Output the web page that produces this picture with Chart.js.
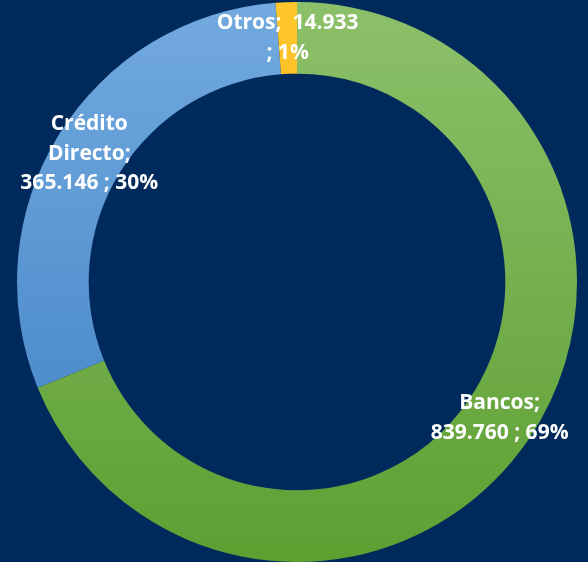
<!DOCTYPE html>
<html>
<head>
<meta charset="utf-8">
<script src="https://cdn.jsdelivr.net/npm/chart.js@4"></script>
<style>
  html, body { margin: 0; padding: 0; background: #002A5C; }
  #wrap { width: 588px; height: 562px; position: relative; }
</style>
</head>
<body>
<div id="wrap"><canvas id="myChart"></canvas></div>
<script>
// chart data
const categories = ['Bancos', 'Crédito Directo', 'Otros'];
const amounts = [839760, 365146, 14933];
const amountLabels = ['839.760', '365.146', ' 14.933'];
const percentLabels = ['69%', '30%', '1%'];

// top / bottom colours of each slice gradient
const topColors = ['#8CC06A', '#72AADF', '#FFC72C'];
const bottomColors = ['#5E9F32', '#3F7FC4', '#D9A000'];

function sliceFill(context) {
    const chart = context.chart;
    const area = chart.chartArea;
    if (!area) return topColors[context.dataIndex];
    const g = chart.ctx.createLinearGradient(0, area.top, 0, area.bottom);
    g.addColorStop(0, topColors[context.dataIndex]);
    g.addColorStop(1, bottomColors[context.dataIndex]);
    return g;
}

function wrapText(ctx, text, maxWidth) {
    const words = text.split(' ');
    const lines = [];
    let line = '';
    words.forEach(function(w) {
        const test = line === '' ? w : line + ' ' + w;
        if (line !== '' && ctx.measureText(test).width > maxWidth) {
            lines.push(line);
            line = w;
        } else {
            line = test;
        }
    });
    if (line !== '') lines.push(line);
    return lines;
}

// data labels drawn at the centre of each slice
const sliceLabels = {
    id: 'sliceLabels',
    afterDatasetsDraw(chart) {
        const ctx = chart.ctx;
        const meta = chart.getDatasetMeta(0);
        ctx.save();
        ctx.font = 'bold 21px "Open Sans"';
        ctx.fillStyle = '#ffffff';
        ctx.textAlign = 'center';
        ctx.textBaseline = 'middle';
        meta.data.forEach(function(arc, i) {
            const pos = arc.tooltipPosition();
            const text = categories[i] + '; ' + amountLabels[i] + ' ; ' + percentLabels[i];
            const lines = wrapText(ctx, text, 146);
            const lh = 29.5;
            const y0 = pos.y - (lines.length - 1) * lh / 2;
            lines.forEach(function(l, j) {
                ctx.fillText(l, pos.x, y0 + j * lh);
            });
        });
        ctx.restore();
    }
};

const ctx = document.getElementById('myChart').getContext('2d');
const myChart = new Chart(ctx, {
    type: 'doughnut',
    data: {
        labels: categories,
        datasets: [{
            data: amounts,
            backgroundColor: sliceFill,
            borderWidth: 0
        }]
    },
    options: {
        responsive: true,
        maintainAspectRatio: false,
        animation: false,
        cutout: '74.4%',
        layout: { padding: { left: 6, top: 2, right: 0, bottom: 0 } },
        plugins: {
            legend: { display: false },
            tooltip: { enabled: false }
        }
    },
    plugins: [sliceLabels]
});
</script>
</body>
</html>
